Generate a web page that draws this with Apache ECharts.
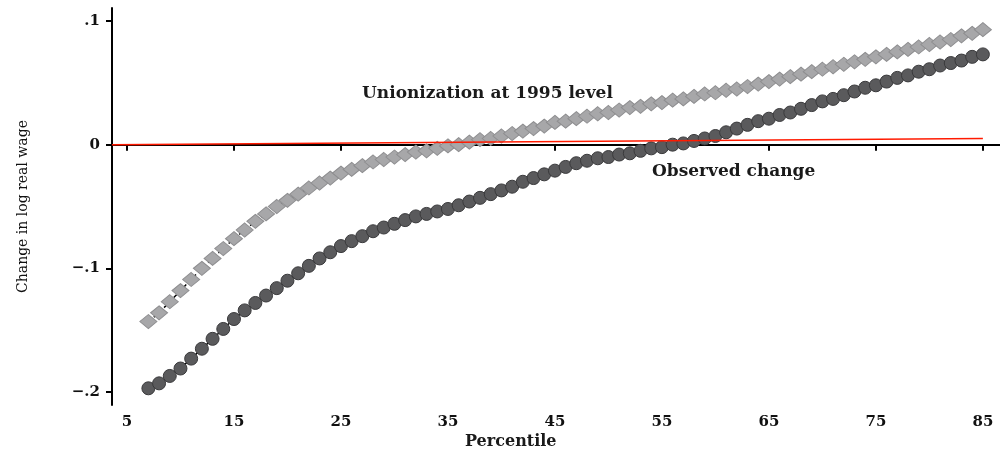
<!DOCTYPE html>
<html>
<head>
<meta charset="utf-8">
<script src="https://cdn.jsdelivr.net/npm/echarts@6/dist/echarts.min.js"></script>
<style>
  html, body { margin: 0; padding: 0; background: #fff; }
  #chart { width: 1000px; height: 455px; }
</style>
</head>
<body>
<div id="chart"></div>
<script>
// Wage percentiles plotted on the horizontal axis
const percentiles = [
  7, 8, 9, 10, 11, 12, 13, 14, 15, 16, 17, 18, 19, 20, 21, 22, 23, 24, 25, 26,
  27, 28, 29, 30, 31, 32, 33, 34, 35, 36, 37, 38, 39, 40, 41, 42, 43, 44, 45, 46,
  47, 48, 49, 50, 51, 52, 53, 54, 55, 56, 57, 58, 59, 60, 61, 62, 63, 64, 65, 66,
  67, 68, 69, 70, 71, 72, 73, 74, 75, 76, 77, 78, 79, 80, 81, 82, 83, 84, 85
];

// Change in log real wage, observed
const observed = [
  -0.197, -0.193, -0.187, -0.181, -0.173, -0.165, -0.157, -0.149, -0.141, -0.134,
  -0.128, -0.122, -0.116, -0.110, -0.104, -0.098, -0.092, -0.087, -0.082, -0.078,
  -0.074, -0.070, -0.067, -0.064, -0.061, -0.058, -0.056, -0.054, -0.052, -0.049,
  -0.046, -0.043, -0.040, -0.037, -0.034, -0.030, -0.027, -0.024, -0.021, -0.018,
  -0.015, -0.013, -0.011, -0.010, -0.008, -0.007, -0.005, -0.003, -0.002, 0.000,
  0.001, 0.003, 0.005, 0.007, 0.010, 0.013, 0.016, 0.019, 0.021, 0.024,
  0.026, 0.029, 0.032, 0.035, 0.037, 0.040, 0.043, 0.046, 0.048, 0.051,
  0.054, 0.056, 0.059, 0.061, 0.064, 0.066, 0.068, 0.071, 0.073
];

// Counterfactual: unionization held at its 1995 level
const union1995 = [
  -0.143, -0.136, -0.127, -0.118, -0.109, -0.100, -0.092, -0.084, -0.076, -0.069,
  -0.062, -0.056, -0.050, -0.045, -0.040, -0.035, -0.031, -0.027, -0.023, -0.020,
  -0.017, -0.014, -0.012, -0.010, -0.008, -0.006, -0.005, -0.003, -0.001, 0.000,
  0.002, 0.004, 0.005, 0.007, 0.009, 0.011, 0.013, 0.015, 0.018, 0.019,
  0.021, 0.023, 0.025, 0.026, 0.028, 0.030, 0.031, 0.033, 0.034, 0.036,
  0.037, 0.039, 0.041, 0.042, 0.044, 0.045, 0.047, 0.049, 0.051, 0.053,
  0.055, 0.057, 0.059, 0.061, 0.063, 0.065, 0.067, 0.069, 0.071, 0.073,
  0.075, 0.077, 0.079, 0.081, 0.083, 0.085, 0.088, 0.090, 0.093
];

// Reference line near zero (start and end points)
const refLineX = [3.6, 85];
const refLineY = [0, 0.005];

const xTicks = [5, 15, 25, 35, 45, 55, 65, 75, 85];
const yTicks = [-0.2, -0.1, 0, 0.1];
const yTickLabels = ['\u2212.2', '\u2212.1', '0', '.1'];

const seriesLabels = ['Unionization at 1995 level', 'Observed change'];
const axisTitles = ['Percentile', 'Change in log real wage'];

const serif = '"DejaVu Serif", "Liberation Serif", serif';

const chart = echarts.init(document.getElementById('chart'), null, { renderer: 'canvas' });

const pairs = (xs, ys) => xs.map((x, i) => [x, ys[i]]);

chart.setOption({
  animation: false,
  backgroundColor: '#ffffff',
  grid: { left: 112, right: 0, top: 8, bottom: 50, containLabel: false },
  xAxis: {
    type: 'value',
    min: 3.6,
    max: 86.6,
    axisLine: { show: true, lineStyle: { color: '#000', width: 2 } },
    axisTick: { show: true, length: 6, lineStyle: { color: '#000', width: 2 }, customValues: xTicks },
    axisLabel: {
      customValues: xTicks,
      margin: 10,
      fontFamily: serif, fontWeight: 'bold', fontSize: 15, color: '#111'
    },
    splitLine: { show: false }
  },
  yAxis: {
    type: 'value',
    min: -0.2105,
    max: 0.1105,
    name: axisTitles[1],
    nameLocation: 'middle',
    nameRotate: 90,
    nameGap: 82,
    nameTextStyle: { fontFamily: serif, fontSize: 14, color: '#111' },
    axisLine: { show: true, lineStyle: { color: '#000', width: 2 } },
    axisTick: { show: true, length: 6, lineStyle: { color: '#000', width: 2 }, customValues: yTicks },
    axisLabel: {
      customValues: yTicks,
      margin: 12,
      fontFamily: serif, fontWeight: 'bold', fontSize: 15, color: '#111',
      formatter: (v) => {
        const i = yTicks.findIndex((t) => Math.abs(t - v) < 1e-9);
        return i >= 0 ? yTickLabels[i] : '';
      }
    },
    splitLine: { show: false }
  },
  series: [
    {
      name: seriesLabels[0],
      type: 'line',
      data: pairs(percentiles, union1995),
      symbol: 'diamond',
      symbolSize: [17, 14],
      showAllSymbol: true,
      itemStyle: { color: '#a7a7a9', borderColor: '#8e8e90', borderWidth: 1 },
      lineStyle: { color: '#000', width: 1.5, type: [4, 3] },
      z: 2
    },
    {
      name: seriesLabels[1],
      type: 'line',
      data: pairs(percentiles, observed),
      symbol: 'circle',
      symbolSize: 13,
      showAllSymbol: true,
      itemStyle: { color: '#5a5a5c', borderColor: '#3a3a3c', borderWidth: 1 },
      lineStyle: { color: '#000', width: 1.5 },
      z: 3
    },
    {
      name: 'zero',
      type: 'line',
      data: pairs(refLineX, refLineY),
      symbol: 'none',
      lineStyle: { color: '#ff1a00', width: 1.5 },
      z: 5
    }
  ],
  graphic: [
    {
      type: 'text', left: 362, top: 85, z: 10,
      style: { text: seriesLabels[0], font: 'bold 17px ' + serif, fill: '#1a1a1a' }
    },
    {
      type: 'text', left: 652, top: 163, z: 10,
      style: { text: seriesLabels[1], font: 'bold 17px ' + serif, fill: '#1a1a1a' }
    },
    {
      type: 'text', left: 465, top: 434, z: 10,
      style: { text: axisTitles[0], font: 'bold 16px ' + serif, fill: '#1a1a1a' }
    }
  ]
});
</script>
</body>
</html>
